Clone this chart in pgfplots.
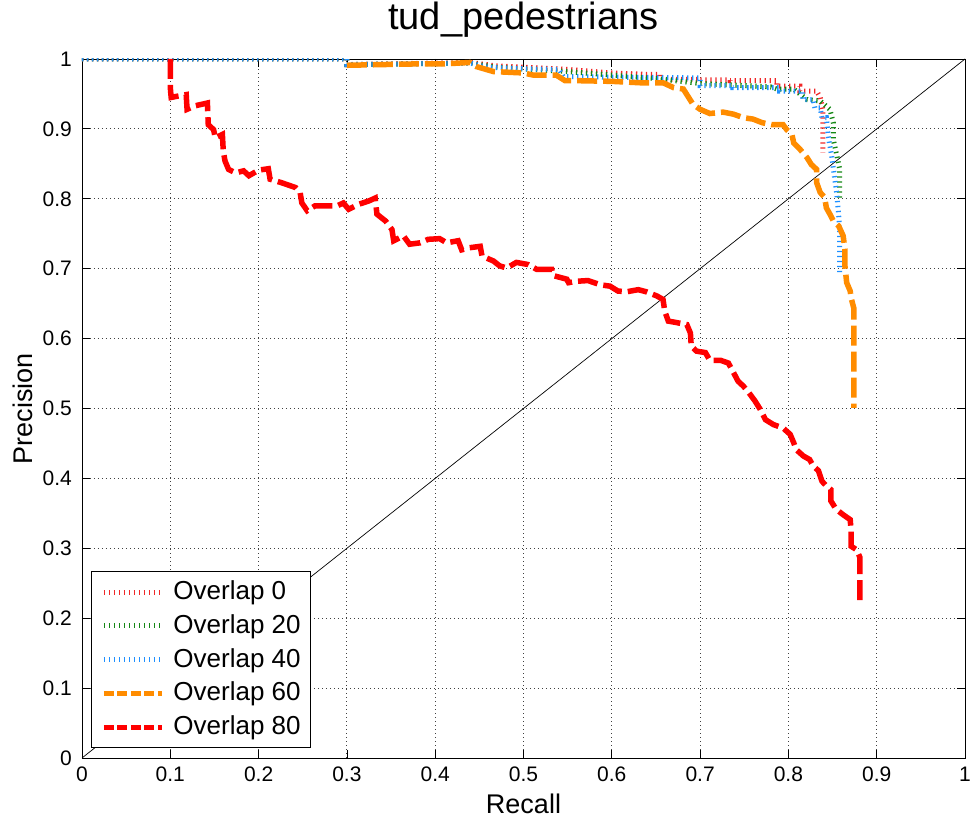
\documentclass[border=0pt]{standalone}
\usepackage{fontspec}
\setmainfont{Liberation Sans}
\usepackage{pgfplots}
\pgfplotsset{compat=1.18}

\definecolor{ovA}{RGB}{240,40,40}
\definecolor{ovB}{RGB}{20,135,20}
\definecolor{ovC}{RGB}{30,144,255}
\definecolor{ovD}{RGB}{255,140,0}
\definecolor{ovE}{RGB}{255,0,0}

\tikzset{
  thinovl/.style={line width=5pt, dash pattern=on 1.3pt off 3.7pt},
  thickovl/.style={line width=5.5pt, dash pattern=on 20pt off 6pt},
  thicklegend/.style={line width=5pt, dash pattern=on 10pt off 3.5pt},
}

\begin{document}
\begin{tikzpicture}
\path[use as bounding box] (-82pt,-60pt) rectangle (889pt,758pt);
\begin{axis}[
  at={(0pt,0pt)}, anchor=south west,
  scale only axis, width=883pt, height=699pt,
  xmin=0, xmax=1, ymin=0, ymax=1,
  xtick={0,0.1,0.2,0.3,0.4,0.5,0.6,0.7,0.8,0.9,1},
  ytick={0,0.1,0.2,0.3,0.4,0.5,0.6,0.7,0.8,0.9,1},
  xticklabels={0,0.1,0.2,0.3,0.4,0.5,0.6,0.7,0.8,0.9,1},
  yticklabels={0,0.1,0.2,0.3,0.4,0.5,0.6,0.7,0.8,0.9,1},
  /pgf/number format/assume math mode=true,
  grid=major,
  major grid style={black!75, line width=0.9pt, dash pattern=on 1pt off 3pt},
  tick align=inside,
  major tick length=8pt,
  every tick/.style={black, line width=0.8pt},
  axis line style={black, line width=0.9pt},
  tick label style={font=\fontsize{21}{25}\selectfont, inner sep=0pt},
  xticklabel style={anchor=north, yshift=-9pt},
  yticklabel style={anchor=east, xshift=-10pt},
  title={tud\_pedestrians},
  title style={at={(0.5,1.0329)}, anchor=base, font=\fontsize{38}{42}\selectfont, inner sep=0pt},
  xlabel={Recall},
  xlabel style={at={(0.5,-0.0787)}, anchor=base, font=\fontsize{27}{30}\selectfont, inner sep=0pt},
  ylabel={Precision},
  ylabel style={at={(-0.0555,0.5)}, anchor=base, font=\fontsize{27}{30}\selectfont, inner sep=0pt},
  legend style={at={(0.0102,0.0143)}, anchor=south west, draw=black, line width=0.9pt,
    fill=white, font=\fontsize{26}{30}\selectfont, inner xsep=10pt, inner ysep=8pt,
    row sep=8.75pt, column sep=9pt,
    nodes={inner sep=0pt, text height=20pt, text depth=5pt}},
  legend cell align=left,
  legend image code/.code={\draw[#1] (0pt,0pt) -- (58pt,0pt);},
]

% chance diagonal
\addplot[black, line width=0.7pt, forget plot] coordinates {(0,0) (1,1)};

% Overlap 0
\addplot[ovA, thinovl, forget plot] coordinates {
(0,1) (0.3,1) (0.3,0.992) (0.44,0.995) (0.47,0.99) (0.55,0.985) (0.6,0.98)
(0.64,0.978) (0.655,0.978) (0.655,0.971) (0.697,0.971) (0.697,0.970) (0.734,0.970)
(0.734,0.969) (0.787,0.969) (0.787,0.961) (0.813,0.961) (0.813,0.954) (0.832,0.954)
(0.836,0.945) (0.839,0.928) (0.839,0.866)};

% Overlap 20
\addplot[ovB, thinovl, forget plot] coordinates {
(0,1) (0.3,1) (0.3,0.992) (0.44,0.994) (0.47,0.988) (0.55,0.982) (0.65,0.972)
(0.7,0.965) (0.78,0.96) (0.787,0.957) (0.806,0.957) (0.821,0.942) (0.836,0.940)
(0.847,0.928) (0.851,0.908) (0.851,0.884) (0.855,0.861) (0.858,0.843) (0.858,0.801)};

% Overlap 40
\addplot[ovC, thinovl, forget plot] coordinates {
(0,1) (0.3,1) (0.3,0.992) (0.44,0.994) (0.46,0.988) (0.5,0.986) (0.54,0.985)
(0.545,0.975) (0.6,0.974) (0.7,0.973) (0.70,0.962) (0.737,0.962) (0.737,0.959)
(0.79,0.959) (0.79,0.954) (0.816,0.954) (0.816,0.942) (0.828,0.942) (0.83,0.930)
(0.836,0.930) (0.838,0.916) (0.843,0.916) (0.845,0.890) (0.849,0.861) (0.851,0.843)
(0.855,0.804) (0.857,0.775) (0.858,0.757) (0.858,0.692)};

% Overlap 60
\addplot[ovD, thickovl, forget plot] coordinates {
(0.3,0.991) (0.34,0.992) (0.38,0.993) (0.41,0.993) (0.439,0.995) (0.447,0.989)
(0.466,0.982) (0.5,0.980) (0.511,0.977) (0.537,0.977) (0.547,0.969) (0.56,0.969)
(0.6,0.968) (0.632,0.966) (0.658,0.966) (0.670,0.959) (0.681,0.957) (0.687,0.945)
(0.692,0.935) (0.700,0.928) (0.711,0.922) (0.726,0.924) (0.738,0.921) (0.749,0.916)
(0.760,0.914) (0.770,0.909) (0.781,0.906) (0.794,0.906) (0.798,0.899) (0.804,0.892)
(0.806,0.880) (0.813,0.871) (0.821,0.859) (0.826,0.849) (0.832,0.842) (0.832,0.823)
(0.836,0.809) (0.841,0.802) (0.843,0.787) (0.847,0.778) (0.851,0.768) (0.857,0.761)
(0.862,0.747) (0.864,0.728) (0.864,0.704) (0.866,0.680) (0.870,0.668) (0.871,0.658)
(0.874,0.644) (0.874,0.501)};

% Overlap 80
\addplot[ovE, thickovl, forget plot] coordinates {
(0.1,1.0) (0.1,0.971) (0.1,0.959) (0.101,0.945) (0.109,0.947) (0.118,0.949)
(0.119,0.928) (0.128,0.933) (0.142,0.937) (0.143,0.906) (0.149,0.899) (0.151,0.887)
(0.159,0.892) (0.160,0.868) (0.162,0.854) (0.166,0.842) (0.174,0.837) (0.183,0.840)
(0.189,0.833) (0.200,0.841) (0.211,0.843) (0.213,0.828) (0.226,0.823) (0.242,0.816)
(0.247,0.809) (0.249,0.794) (0.255,0.783) (0.264,0.790) (0.279,0.790) (0.289,0.790)
(0.296,0.794) (0.302,0.785) (0.313,0.792) (0.325,0.797) (0.332,0.801) (0.334,0.778)
(0.344,0.768) (0.351,0.756) (0.353,0.740) (0.364,0.747) (0.371,0.735) (0.383,0.737)
(0.392,0.742) (0.405,0.743) (0.413,0.737) (0.426,0.740) (0.430,0.727) (0.439,0.730)
(0.451,0.732) (0.453,0.718) (0.466,0.711) (0.473,0.704) (0.481,0.701) (0.492,0.709)
(0.505,0.706) (0.515,0.699) (0.532,0.699) (0.534,0.690) (0.549,0.685) (0.551,0.680)
(0.560,0.682) (0.573,0.683) (0.587,0.677) (0.598,0.675) (0.607,0.668) (0.617,0.667)
(0.630,0.670) (0.639,0.667) (0.651,0.661) (0.658,0.656) (0.660,0.639) (0.664,0.625)
(0.673,0.623) (0.685,0.620) (0.689,0.608) (0.690,0.589) (0.696,0.582) (0.706,0.580)
(0.711,0.569) (0.723,0.569) (0.732,0.565) (0.738,0.551) (0.743,0.539) (0.749,0.532)
(0.755,0.523) (0.762,0.511) (0.768,0.499) (0.774,0.484) (0.783,0.477) (0.794,0.472)
(0.802,0.463) (0.806,0.451) (0.809,0.441) (0.817,0.432) (0.824,0.427) (0.828,0.418)
(0.834,0.411) (0.838,0.396) (0.843,0.389) (0.848,0.384) (0.848,0.368) (0.854,0.356)
(0.862,0.348) (0.870,0.341) (0.871,0.325) (0.871,0.303) (0.877,0.298) (0.881,0.287)
(0.881,0.220)};

\addlegendimage{ovA, thinovl}
\addlegendentry{Overlap 0}
\addlegendimage{ovB, thinovl}
\addlegendentry{Overlap 20}
\addlegendimage{ovC, thinovl}
\addlegendentry{Overlap 40}
\addlegendimage{ovD, thicklegend}
\addlegendentry{Overlap 60}
\addlegendimage{ovE, thicklegend}
\addlegendentry{Overlap 80}
\end{axis}
\end{tikzpicture}
\end{document}
